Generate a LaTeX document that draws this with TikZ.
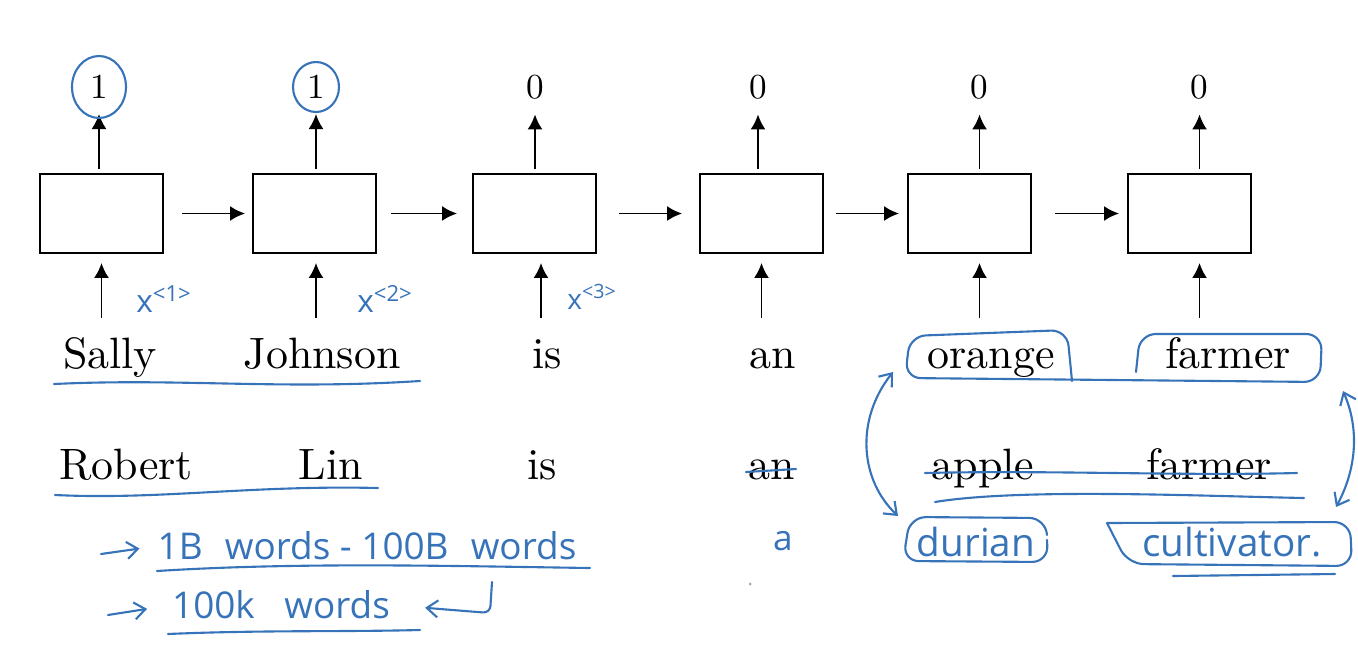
\documentclass[tikz,border=0pt]{standalone}
\usepackage{fontspec}
\setmainfont{lmroman10-regular}[Extension=.otf]
\newfontfamily\handfont{Open Sans}
\usetikzlibrary{arrows.meta, positioning}
\definecolor{penblue}{RGB}{55, 115, 185}

\begin{document}
\begin{tikzpicture}[
                x=0.02cm, y=-0.02cm,
                cell/.style={
                    rectangle,
                    draw,
                    line width=1.1pt,
                    minimum width=2.46cm,
                    minimum height=1.58cm,
                    inner sep=0pt
                },
                word/.style={
                    font=\fontsize{25}{30}\selectfont,
                    inner sep=0pt,
                    text height=18pt,
                    text depth=6pt,
                    anchor=base
                },
                digit/.style={font=\fontsize{20}{24}\selectfont, inner sep=0pt},
                arrow/.style={-{Latex[length=0.3cm, width=0.3cm]}, line width=1.1pt},
                ink/.style={penblue, line width=1.2pt, line cap=round, line join=round},
                hand/.style={penblue, font=\handfont\fontsize{22}{26}\selectfont, inner sep=0pt},
                note/.style={hand, font=\handfont\fontsize{21}{24}\selectfont},
                barb/.style={ink, -{Straight Barb[length=0.22cm, width=0.34cm]}},
                dbarb/.style={ink, {Straight Barb[length=0.22cm, width=0.34cm]}-{Straight Barb[length=0.22cm, width=0.34cm]}}
            ]

            \useasboundingbox (0,0) rectangle (1358,646);

            % RNN cells
            \node (cell1) [cell] at (101.5,213.5) {};
            \node (cell2) [cell] at (314.5,213.5) {};
            \node (cell3) [cell] at (534.5,213.5) {};
            \node (cell4) [cell] at (761.5,213.5) {};
            \node (cell5) [cell] at (969.5,213.5) {};
            \node (cell6) [cell] at (1189.5,213.5) {};

            % Outputs
            \node (out1) [digit] at (99,87) {1};
            \node (out2) [digit] at (316,87) {1};
            \node (out3) [digit] at (535,87) {0};
            \node (out4) [digit] at (758,87) {0};
            \node (out5) [digit] at (979.5,87) {0};
            \node (out6) [digit] at (1199.5,87) {0};

            % Sentence 1
            \node (sally) [word] at (110,368) {Sally};
            \node (johnson) [word] at (322,368) {Johnson};
            \node (is1) [word] at (547,368) {is};
            \node (an1) [word] at (773,368) {an};
            \node (orange) [word] at (991,368) {orange};
            \node (farmer1) [word] at (1228,368) {farmer};

            % Sentence 2
            \node (robert) [word] at (126,479) {Robert};
            \node (lin) [word] at (331,479) {Lin};
            \node (is2) [word] at (542,479) {is};
            \node (an2) [word] at (772,479) {an};
            \node (apple) [word] at (983,479) {apple};
            \node (farmer2) [word] at (1209,479) {farmer};

            % Arrows
            \draw [arrow, shorten <=0.36cm, shorten >=0.14cm] (cell1) -- (cell2);
            \draw [arrow, shorten <=0.28cm, shorten >=0.30cm] (cell2) -- (cell3);
            \draw [arrow, shorten <=0.44cm, shorten >=0.34cm] (cell3) -- (cell4);
            \draw [arrow, shorten <=0.24cm, shorten >=0.16cm] (cell4) -- (cell5);
            \draw [arrow, shorten <=0.46cm, shorten >=0.16cm] (cell5) -- (cell6);

            \draw [arrow, shorten <=0.08cm, shorten >=0.3cm] (cell1.north -| out1) -- (out1);
            \draw [arrow, shorten <=0.08cm, shorten >=0.3cm] (cell2.north -| out2) -- (out2);
            \draw [arrow, shorten <=0.08cm, shorten >=0.3cm] (cell3.north -| out3) -- (out3);
            \draw [arrow, shorten <=0.08cm, shorten >=0.3cm] (cell4.north -| out4) -- (out4);
            \draw [arrow, shorten <=0.08cm, shorten >=0.3cm] (cell5.north -| out5) -- (out5);
            \draw [arrow, shorten <=0.08cm, shorten >=0.3cm] (cell6.north -| out6) -- (out6);

            \draw [arrow, shorten <=0.36cm, shorten >=0.18cm] (cell1.south |- sally.north) -- (cell1.south);
            \draw [arrow, shorten <=0.36cm, shorten >=0.18cm] (out2 |- johnson.north) -- (out2 |- cell2.south);
            \draw [arrow, shorten <=0.36cm, shorten >=0.18cm] (is1.north -| 541,0) -- (cell3.south -| 541,0);
            \draw [arrow, shorten <=0.36cm, shorten >=0.18cm] (cell4.south |- an1.north) -- (cell4.south);
            \draw [arrow, shorten <=0.36cm, shorten >=0.18cm] (out5 |- orange.north) -- (out5 |- cell5.south);
            \draw [arrow, shorten <=0.36cm, shorten >=0.18cm] (out6 |- farmer1.north) -- (out6 |- cell6.south);

            % Handwritten notes
            \draw [ink] (out1) ellipse [x radius=0.54cm, y radius=0.62cm];
            \draw [ink] (out2) ellipse [x radius=0.46cm, y radius=0.5cm];

            \node (x1) [hand, font=\handfont\fontsize{18}{22}\selectfont] at (164,299) {x\textsuperscript{<1>}};
            \node (x2) [hand, font=\handfont\fontsize{18}{22}\selectfont] at (385,299) {x\textsuperscript{<2>}};
            \node (x3) [hand, font=\handfont\fontsize{16}{20}\selectfont] at (592,297) {x\textsuperscript{<3>}};

            \draw [ink] (54,384) .. controls (180,378) and (280,390) .. (420,381);
            \draw [ink] (55,495) .. controls (160,500) and (250,485) .. (378,488);

            \draw [ink] (746,472) -- (796,469);
            \draw [ink] (925,473) .. controls (1050,470) and (1180,476) .. (1297,473);
            \draw [ink] (935,502) .. controls (1020,488) and (1200,496) .. (1304,498);

            \draw [ink, rounded corners=9pt] (1072,381) -- (1067,330) -- (910,336) -- (905,378) -- (1320,382) -- (1322,334) -- (1140,334) -- (1136,372);
            \draw [ink, rounded corners=9pt] (1047,535) -- (1045,518) -- (910,517) -- (903,561) -- (1048,562) -- (1047,540);
            \draw [ink, rounded corners=9pt] (1107,523) -- (1350,522) -- (1352,566) -- (1128,564) -- (1107,523);
            \draw [ink] (1173,576) -- (1335,574);

            \draw [dbarb] (893,372) .. controls (855,420) and (860,480) .. (898,516);
            \draw [dbarb] (1343,391) .. controls (1360,430) and (1356,470) .. (1336,507);

            \node (durian) [hand] at (976,542) {durian};
            \node (cultivator) [hand] at (1232,542) {cultivator.};
            \node (a2) [hand, font=\handfont\fontsize{20}{24}\selectfont] at (783,541) {a};
            \fill [gray!70] (750,584) circle [radius=0.03cm];

            \coordinate (tip1) at (101,554);
            \coordinate (tip2) at (108,615);
            \node (corpus) [note] at (367,546) {1B\hspace{0.6em}words - 100B\hspace{0.6em}words};
            \node (vocab) [note] at (281,605) {100k\hspace{0.8em}words};
            \draw [barb, shorten >=0.36cm] (tip1) -- (corpus.west);
            \draw [barb, shorten >=0.5cm] (tip2) -- (vocab.west);
            \draw [ink] (157,571) .. controls (300,562) and (450,566) .. (590,568);
            \draw [ink] (168,634) .. controls (260,630) and (340,632) .. (420,630);
            \draw [barb, rounded corners=4pt, shorten >=0.7cm] (492,582) -- (490,613) -- (vocab.east);

\end{tikzpicture}
\end{document}
